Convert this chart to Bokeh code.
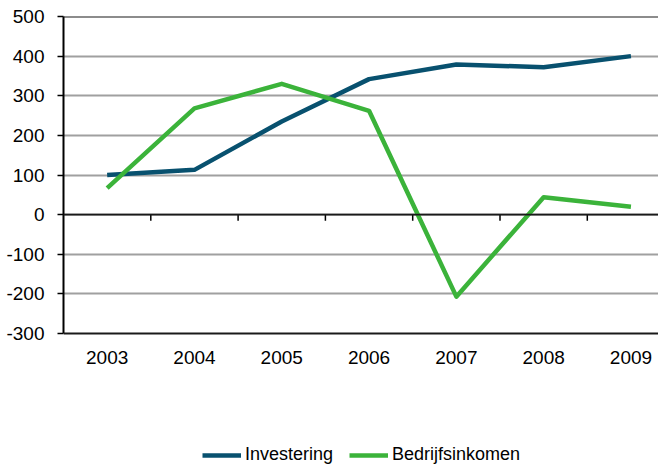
import math
from bokeh.plotting import figure
from bokeh.models import Range1d, FixedTicker, Span, Legend, LegendItem
from bokeh.core.properties import value
from bokeh.embed import file_html
from bokeh.resources import INLINE

years = [2003, 2004, 2005, 2006, 2007, 2008, 2009]
investering = [100, 113, 235, 342, 379, 372, 400]
bedrijfsinkomen = [67, 268, 330, 262, -207, 44, 20]
y_ticks = [-300, -200, -100, 0, 100, 200, 300, 400, 500]
y_labels = ["-300", "-200", "-100", "0", "100", "200", "300", "400", "500"]

FONT = "Liberation Sans"

# layout constants (pixels)
W, H = 658, 465
LEFT, TOP = 63, 16
PLOT_PX = 317                     # height of the -300..500 band
CAT_PX = 87.3                     # width of one category
y_min, y_max = y_ticks[0], y_ticks[-1]
px_per_unit = PLOT_PX / (y_max - y_min)
frame_h = H - TOP
frame_w = W - LEFT
y_low = y_max - frame_h / px_per_unit
x_low = years[0] - 0.5
x_high = x_low + frame_w / CAT_PX

p = figure(width=W, height=H, output_backend="svg", toolbar_location=None,
           x_range=Range1d(x_low, x_high), y_range=Range1d(y_low, y_max),
           min_border_left=LEFT, min_border_right=0, min_border_top=TOP,
           min_border_bottom=0)
p.outline_line_color = None
p.background_fill_color = "white"
p.border_fill_color = "white"
p.xaxis.visible = False

# grid
p.xgrid.visible = False
p.ygrid.ticker = FixedTicker(ticks=y_ticks[1:-1])
p.ygrid.grid_line_color = "#A0A0A0"
p.ygrid.grid_line_width = 2

# dark reference lines
for loc in (y_min, 0, y_max):
    p.add_layout(Span(location=loc, dimension="width", line_color="#1a1a1a", line_width=1.8))

# y axis
p.yaxis.ticker = FixedTicker(ticks=y_ticks)
p.yaxis.major_label_overrides = {t: l for t, l in zip(y_ticks, y_labels)}
p.yaxis.bounds = (y_min, y_max)
p.yaxis.axis_line_color = "black"
p.yaxis.axis_line_width = 2
p.yaxis.major_tick_line_color = "black"
p.yaxis.major_tick_line_width = 1.5
p.yaxis.major_tick_out = 6
p.yaxis.major_tick_in = 0
p.yaxis.minor_tick_line_color = None
p.yaxis.major_label_standoff = 13
p.yaxis.major_label_text_font = FONT
p.yaxis.major_label_text_font_size = "19px"
p.yaxis.major_label_text_color = "black"

# category labels below the -300 line
p.text(x=years, y=[y_min] * len(years), text=[str(y) for y in years],
       y_offset=17, text_align="center", text_baseline="top",
       text_font=value(FONT), text_font_size=value("19px"), text_color="black")

# category boundary ticks on the zero line
bounds = [y + 0.5 for y in years[:-1]]
p.ray(x=bounds, y=[0] * len(bounds), length=6, length_units="screen",
      angle=-math.pi / 2, line_color="black", line_width=1.5)

r1 = p.line(years, investering, line_color="#08516F", line_width=4.5, line_join="round")
r2 = p.line(years, bedrijfsinkomen, line_color="#3BB33A", line_width=4.5, line_join="round")

legend = Legend(items=[LegendItem(label="Investering", renderers=[r1]),
                       LegendItem(label="Bedrijfsinkomen", renderers=[r2])],
                location=(139, 0), orientation="horizontal",
                glyph_width=39, glyph_height=12, label_height=12, label_standoff=4,
                spacing=16, padding=0, margin=0,
                border_line_alpha=0, background_fill_alpha=0,
                label_text_font=FONT, label_text_font_size="18px",
                label_text_color="black")
p.add_layout(legend, "center")

open("out.html", "w").write(file_html(p, INLINE))
